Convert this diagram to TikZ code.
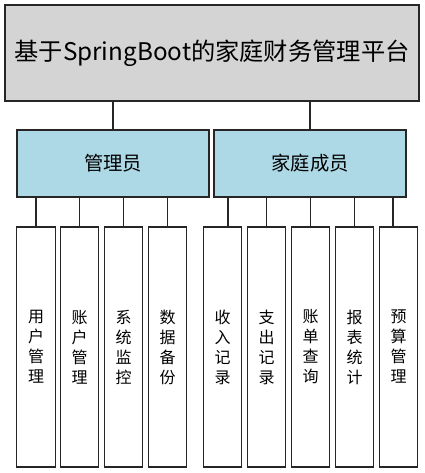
\documentclass[tikz,border=0pt]{standalone}
\usepackage{fontspec}
\setmainfont{Noto Sans CJK SC}
\definecolor{lightblue}{HTML}{ADD8E6}
\tikzset{
    box/.style={draw=black!85, line width=0.9pt, inner sep=0pt, align=center},
    rootbox/.style={box, fill=black!17, minimum width=310.5pt, minimum height=72pt, font=\fontsize{18.2}{22}\selectfont},
    rolebox/.style={box, fill=lightblue, minimum width=144pt, minimum height=50.25pt, font=\fontsize{14.5}{17}\selectfont},
    leafbox/.style={box, fill=white, minimum width=28.9pt, minimum height=180pt, font=\fontsize{12}{15}\selectfont},
    link/.style={draw=black!85, line width=0.9pt}
}
\begin{document}
\begin{tikzpicture}[x=0.75pt, y=-0.75pt]
    \useasboundingbox (0,0) rectangle (424,473);

    \node[rootbox] (root) at (212,53) {基于SpringBoot的家庭财务管理平台};
    \node[rolebox] (admin) at (113,163.5) {管理员};
    \node[rolebox] (member) at (310,163.5) {家庭成员};

    \draw[link] (admin.north) -- (admin.north |- root.south);
    \draw[link] (member.north) -- (member.north |- root.south);

    % admin modules
    \foreach \x/\name/\txt in {36/a1/用\\户\\管\\理, 79.5/a2/账\\户\\管\\理, 123.5/a3/系\\统\\监\\控, 167.5/a4/数\\据\\备\\份}{
        \node[leafbox] (\name) at (\x,347) {\txt};
        \draw[link] (\name.north) -- (\name.north |- admin.south);
    }

    % member modules
    \foreach \x/\dx/\name/\txt in {222.5/4.1pt/m1/收\\入\\记\\录, 266.5/0pt/m2/支\\出\\记\\录, 310.5/0pt/m3/账\\单\\查\\询, 354.5/0pt/m4/报\\表\\统\\计, 398.5/-4.1pt/m5/预\\算\\管\\理}{
        \node[leafbox] (\name) at (\x,347) {\txt};
        \draw[link] ([xshift=\dx]\name.north) -- ([xshift=\dx]\name.north |- member.south);
    }
\end{tikzpicture}
\end{document}
